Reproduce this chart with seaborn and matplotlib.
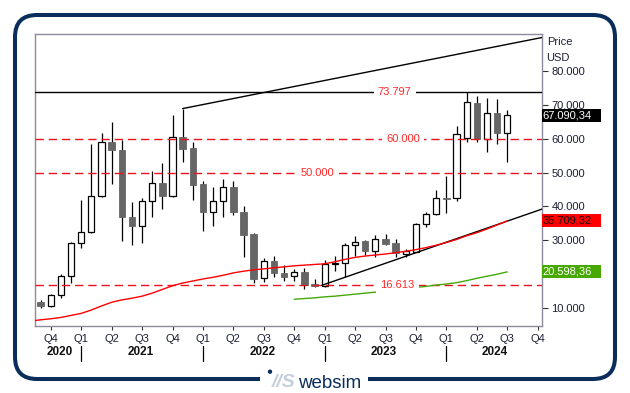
import numpy as np
import pandas as pd
import matplotlib
matplotlib.use("Agg")
import matplotlib.pyplot as plt
import matplotlib.transforms as mtransforms
from matplotlib.patches import FancyBboxPatch, Rectangle, Circle
import seaborn as sns

### Data ---------------------------------------------------------------------
# monthly candles, price in thousand USD
months = pd.period_range("2020-09", "2024-07", freq="M")
opens = [11.7, 10.6, 13.7, 19.3, 29.1, 32.3, 43.0, 59.1, 56.7, 36.9, 34.3, 41.5,
         46.9, 43.2, 60.5, 57.3, 46.6, 38.2, 41.5, 45.9, 38.4, 31.8, 18.7, 23.8,
         20.3, 19.5, 20.6, 17.0, 16.5, 22.9, 23.1, 28.6, 29.8, 26.9, 30.3, 29.3,
         25.9, 26.6, 34.7, 37.7, 42.5, 42.4, 60.3, 70.6, 60.0, 67.6, 61.9]
highs = [12.2, 14.0, 20.1, 29.4, 41.9, 58.5, 61.8, 65.0, 59.8, 41.3, 42.5, 50.5,
         52.9, 67.1, 68.9, 59.0, 47.6, 45.9, 48.1, 47.6, 40.1, 32.0, 24.6, 25.3,
         22.6, 21.4, 21.7, 18.5, 24.1, 25.3, 29.1, 31.2, 29.9, 31.5, 31.8, 30.4,
         27.3, 35.2, 38.3, 44.9, 49.0, 63.9, 73.8, 72.7, 72.0, 71.8, 68.6]
lows = [9.8, 10.3, 13.0, 17.4, 27.6, 32.2, 42.9, 46.7, 29.8, 28.6, 29.3, 37.0,
        39.3, 42.9, 53.3, 41.9, 32.8, 34.2, 37.0, 37.5, 25.1, 17.4, 17.6, 19.1,
        18.0, 18.0, 15.4, 16.2, 16.2, 21.0, 19.0, 25.3, 25.6, 24.9, 28.7, 24.9,
        24.9, 26.4, 34.0, 37.5, 38.1, 41.7, 59.2, 59.0, 56.2, 58.4, 53.3]
closes = [10.6, 13.7, 19.3, 29.1, 32.3, 43.0, 59.1, 56.6, 36.8, 34.3, 41.5, 46.9,
          43.2, 60.5, 57.1, 46.2, 38.2, 41.5, 45.7, 38.2, 31.6, 18.6, 23.8, 20.2,
          19.2, 20.5, 16.7, 16.5, 23.0, 23.1, 28.5, 29.5, 26.9, 30.3, 28.9, 26.3,
          26.9, 34.7, 37.7, 42.4, 42.3, 61.4, 70.9, 60.0, 67.6, 61.9, 67.1]

# moving averages
ma_red_months = pd.period_range("2020-08", "2024-07", freq="M")
ma_red = [6.0, 6.4, 6.7, 7.1, 7.7, 8.3, 9.3, 10.5, 11.6, 12.3, 12.8, 13.4,
          14.3, 15.4, 16.5, 17.3, 17.9, 18.5, 19.0, 19.6, 20.3, 20.8, 21.2, 21.5,
          21.8, 22.1, 22.4, 22.6, 22.8, 23.0, 23.6, 24.3, 24.9, 25.3, 25.6, 25.9,
          26.3, 26.7, 27.2, 27.8, 28.5, 29.3, 30.2, 31.3, 32.2, 33.3, 34.5, 35.7]
ma_green_months = pd.period_range("2022-10", "2024-07", freq="M")
ma_green = [12.5, 12.7, 12.9, 13.2, 13.4, 13.7, 14.0, 14.3, 14.6, 15.0, 15.3,
            15.6, 16.0, 16.3, 16.7, 17.0, 17.4, 18.0, 18.7, 19.3, 19.9, 20.6]

# horizontal levels
level_solid = 73.797
levels_dashed = [60.0, 50.0, 16.613]

# trend lines (month index from Sep 2020, price)
trend_up_x = [14, 50]
trend_up_y = [69.0, 90.4]
trend_low_x = [27.7, 50]
trend_low_y = [16.6, 39.8]

# last values shown on the right
last_price = 67090.34
last_red = 35709.32
last_green = 20598.36

quarter_names = {1: "Q1", 4: "Q2", 7: "Q3", 10: "Q4"}
years = [2020, 2021, 2022, 2023, 2024]


### Helpers ------------------------------------------------------------------
def month_idx(p):
    return (p.year - 2020) * 12 + p.month - 9


def de_fmt(v):
    s = f"{v:,.2f}"
    return s.replace(",", "X").replace(".", ",").replace("X", ".")


def px(x, y):
    return x / 630, 1 - y / 393


candles = pd.DataFrame({"idx": [month_idx(m) for m in months],
                        "open": opens, "high": highs, "low": lows, "close": closes})
candles["up"] = candles["close"] >= candles["open"]
red_df = pd.DataFrame({"idx": [month_idx(m) for m in ma_red_months], "val": ma_red})
green_df = pd.DataFrame({"idx": [month_idx(m) for m in ma_green_months], "val": ma_green})

### Plot ---------------------------------------------------------------------
sns.set_theme(style="white")
plt.rcParams["font.family"] = ["Liberation Sans", "DejaVu Sans"]

fig = plt.figure(figsize=(6.3, 3.93), dpi=100)
fig.patch.set_facecolor("white")
ax = fig.add_axes([35.3 / 630, 1 - 326 / 393, 506.4 / 630, 292 / 393])

xmin, xmax = -0.53, 49.4
ymin, ymax = 4.56, 91.1
ax.set_xlim(xmin, xmax)
ax.set_ylim(ymin, ymax)

# wicks
ax.vlines(candles["idx"], candles["low"], candles["high"], color="black", lw=0.9, zorder=2)
# bodies
body_bottom = candles[["open", "close"]].min(axis=1)
body_h = (candles["close"] - candles["open"]).abs().clip(lower=0.3)
up = candles[candles["up"]]
dn = candles[~candles["up"]]
ax.bar(up["idx"], body_h[up.index], bottom=body_bottom[up.index], width=0.6,
       color="white", edgecolor="black", linewidth=0.9, zorder=3)
ax.bar(dn["idx"], body_h[dn.index], bottom=body_bottom[dn.index], width=0.64,
       color="#666666", edgecolor="#666666", linewidth=0.6, zorder=3)

# levels
ax.axhline(level_solid, color="black", lw=1.0, zorder=4)
for lv in levels_dashed:
    ax.axhline(lv, color="#e8141c", lw=1.0, ls=(0, (6, 3.5)), zorder=4)

label_pos = {73.797: 34.9, 60.0: 35.7, 50.0: 27.3, 16.613: 35.2}
for lv, xpos in label_pos.items():
    ax.text(xpos, lv, f"{lv:.3f}", color="#ff2a2a", fontsize=8, ha="center", va="center",
            bbox=dict(fc="white", ec="none", pad=3.0), zorder=5)

# trend lines
sns.lineplot(x=trend_up_x, y=trend_up_y, ax=ax, color="black", lw=1.0, zorder=4)
sns.lineplot(x=trend_low_x, y=trend_low_y, ax=ax, color="black", lw=1.0, zorder=4)

# moving averages
sns.lineplot(data=red_df, x="idx", y="val", ax=ax, color="#ff0000", lw=1.0, zorder=4)
sns.lineplot(data=green_df, x="idx", y="val", ax=ax, color="#44a80a", lw=1.0, zorder=4)

# axes styling
for sp in ax.spines.values():
    sp.set_color("#8c8c9c")
    sp.set_linewidth(1.0)
ax.set_xlabel("")
ax.set_ylabel("")

ax.yaxis.tick_right()
yt = list(range(10, 90, 10))
ax.set_yticks(yt)
# the 20.000 label sits under the green value box, so it is left blank
ax.set_yticklabels(["" if v == 20 else f"{v:.3f}" for v in yt])
ax.tick_params(axis="y", right=True, left=False, length=4.5, width=0.8, color="#333333",
               pad=2.5, labelsize=8, labelcolor="#1a1f33")

qticks = [i for i in range(-1, 50) if (8 + i) % 12 + 1 in quarter_names]
ax.set_xticks(qticks)
ax.set_xticklabels([quarter_names[(8 + i) % 12 + 1] for i in qticks])
ax.tick_params(axis="x", bottom=True, length=3, width=0.8, color="#333333",
               pad=2.5, labelsize=8, labelcolor="#1a1f33")

trans = mtransforms.blended_transform_factory(ax.transData, ax.transAxes)
for yr in years:
    jan = (yr - 2020) * 12 - 8
    lo = max(jan - 0.5, xmin)
    hi = min(jan + 11.5, xmax)
    ax.text((lo + hi) / 2 + 0.35, -0.089, str(yr), transform=trans, ha="center", va="center",
            fontsize=8.5, fontweight="bold", color="#111111")
    if jan > xmin:
        ax.plot([jan, jan], [-0.068, -0.12], transform=trans, color="black", lw=0.9,
                clip_on=False)

# right side value boxes
transr = mtransforms.blended_transform_factory(ax.transAxes, ax.transData)
box_w = 59 / 506.4
box_h = 13 / 3.374
for val, fc, tc in [(last_price, "black", "white"), (last_red, "#ff0000", "#1a0000"),
                    (last_green, "#46a800", "white")]:
    v = val / 1000
    ax.add_patch(Rectangle((1.0, v - box_h / 2), box_w, box_h, transform=transr,
                           fc=fc, ec="none", clip_on=False, zorder=10))
    ax.text(1.002, v, de_fmt(val), transform=transr, ha="left", va="center", fontsize=8,
            color=tc, zorder=11, clip_on=False)

fig.text(*px(547, 41.7), "Price", ha="left", va="center", fontsize=8, color="#1a1f33")
fig.text(*px(546, 57.7), "USD", ha="left", va="center", fontsize=8, color="#1a1f33")

# outer frame and logo
frame = FancyBboxPatch((0.15, 0.14), 6.0, 3.64, boxstyle="round,pad=0,rounding_size=0.22",
                       transform=fig.dpi_scale_trans, fill=False, ec="#0b2d5b", lw=2.9,
                       zorder=1)
fig.add_artist(frame)
fig.add_artist(Rectangle((2.60, 0.04), 1.08, 0.22, transform=fig.dpi_scale_trans,
                         fc="white", ec="none", zorder=2))
fig.add_artist(Circle((2.70, 0.213), 0.022, transform=fig.dpi_scale_trans,
                      fc="#0b2d5b", ec="none", zorder=3))
fig.text(2.72 / 6.3, 0.058 / 3.93, "//S", fontsize=14, fontweight="bold", fontstyle="italic",
         color="#c5cfdc", ha="left", va="baseline", zorder=3)
fig.text(2.98 / 6.3, 0.053 / 3.93, "websim", fontsize=13.5, color="#0b2d5b",
         ha="left", va="baseline", zorder=3)

fig.savefig("out.png", dpi=100, facecolor="white")
